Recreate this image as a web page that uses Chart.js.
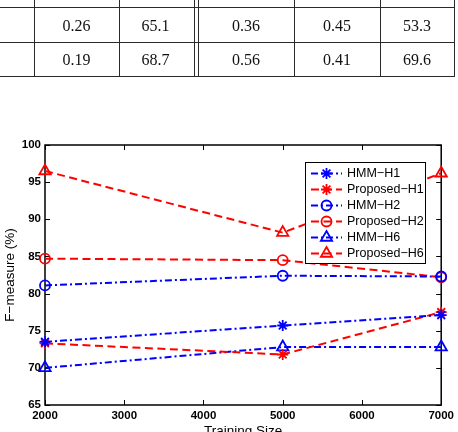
<!DOCTYPE html>
<html><head><meta charset="utf-8">
<script src="https://cdn.jsdelivr.net/npm/chart.js@4.4.1/dist/chart.umd.min.js"></script>
<style>
html,body{margin:0;padding:0;width:458px;height:432px;overflow:hidden;background:#fff;}
#c{position:absolute;left:0;top:0;}
#tbl{position:absolute;left:0;top:0;width:458px;height:80px;z-index:2;}
.hl{position:absolute;height:1px;background:#2a2a2a;}
.vl{position:absolute;width:1px;background:#2a2a2a;}
.cell{position:absolute;font-family:"Liberation Serif",serif;font-size:16px;color:#111;transform:translate(-50%,-50%);white-space:nowrap;}
</style></head>
<body>
<div id="tbl"></div>
<canvas id="c" width="458" height="439"></canvas>
<script>
// ---- table fragment data ----
const tableRow1 = ["0.26", "65.1", "0.36", "0.45", "53.3"];
const tableRow2 = ["0.19", "68.7", "0.56", "0.41", "69.6"];

// ---- chart data ----
const trainingSizes = [2000, 5000, 7000];
const hmmH1  = [73.5, 75.7, 77.1];
const propH1 = [73.3, 71.8, 77.5];
const hmmH2  = [81.1, 82.4, 82.3];
const propH2 = [84.7, 84.5, 82.2];
const hmmH6  = [70.0, 72.8, 72.8];
const propH6 = [96.5, 88.2, 96.2];
const seriesNames = ["HMM\u2212H1", "Proposed\u2212H1", "HMM\u2212H2", "Proposed\u2212H2", "HMM\u2212H6", "Proposed\u2212H6"];

// ---- build table ----
(function(){
  const t = document.getElementById('tbl');
  const hY = [7, 42, 76];
  const vX = [34, 119, 194, 198, 294, 380, 454];
  const colC = [76.5, 155.5, 246, 337, 417];
  const rowC = [25.5, 59.5];
  hY.forEach(y => { const d = document.createElement('div'); d.className='hl'; d.style.left='0px'; d.style.top=y+'px'; d.style.width='455px'; t.appendChild(d); });
  vX.forEach(x => { const d = document.createElement('div'); d.className='vl'; d.style.left=x+'px'; d.style.top='0px'; d.style.height='77px'; t.appendChild(d); });
  [tableRow1, tableRow2].forEach((row, r) => row.forEach((v, c) => {
    const s = document.createElement('div'); s.className='cell'; s.textContent=v;
    s.style.left=colC[c]+'px'; s.style.top=rowC[r]+'px'; t.appendChild(s);
  }));
})();

const BLUE = '#0000ff', RED = '#ff0000';
const hmmDash = [7, 3, 2, 3], propDash = [8, 4.5];
function mk(label, data, color, dash, style, r) {
  return {
    label, data: data.map((v, i) => ({x: trainingSizes[i], y: v})),
    borderColor: color, borderDash: dash, borderWidth: 2,
    pointStyle: style, pointRadius: r, pointHoverRadius: r,
    pointBorderColor: color, pointBackgroundColor: 'rgba(0,0,0,0)', pointBorderWidth: 1.8,
    tension: 0, fill: false, clip: false
  };
}
const datasets = [
  mk(seriesNames[0], hmmH1, BLUE, hmmDash, 'star', 5.5),
  mk(seriesNames[1], propH1, RED, propDash, 'star', 5.5),
  mk(seriesNames[2], hmmH2, BLUE, hmmDash, 'circle', 5),
  mk(seriesNames[3], propH2, RED, propDash, 'circle', 5),
  mk(seriesNames[4], hmmH6, BLUE, hmmDash, 'triangle', 6.5),
  mk(seriesNames[5], propH6, RED, propDash, 'triangle', 6.5)
];

function drawMarker(ctx, style, x, y, r) {
  ctx.beginPath();
  if (style === 'circle') {
    ctx.arc(x, y, r, 0, Math.PI * 2);
  } else if (style === 'triangle') {
    for (let k = 0; k < 3; k++) {
      const a = k * 2 * Math.PI / 3;
      const px = x + Math.sin(a) * r, py = y - Math.cos(a) * r;
      if (k === 0) ctx.moveTo(px, py); else ctx.lineTo(px, py);
    }
    ctx.closePath();
  } else if (style === 'star') {
    for (let k = 0; k < 4; k++) {
      const a = k * Math.PI / 4;
      ctx.moveTo(x + Math.sin(a) * r, y - Math.cos(a) * r);
      ctx.lineTo(x - Math.sin(a) * r, y + Math.cos(a) * r);
    }
  }
  ctx.stroke();
}

const framePlugin = {
  id: 'frame',
  beforeDatasetsDraw(chart) {
    const {ctx, chartArea: a, scales: {x, y}} = chart;
    ctx.save();
    ctx.strokeStyle = '#000'; ctx.lineWidth = 1.5;
    ctx.strokeRect(a.left, a.top, a.right - a.left, a.bottom - a.top);
    ctx.lineWidth = 1;
    const L = 5;
    ctx.beginPath();
    x.ticks.forEach(t => {
      const px = Math.round(x.getPixelForValue(t.value)) + 0.5;
      ctx.moveTo(px, a.bottom); ctx.lineTo(px, a.bottom - L);
      ctx.moveTo(px, a.top); ctx.lineTo(px, a.top + L);
    });
    y.ticks.forEach(t => {
      const py = Math.round(y.getPixelForValue(t.value)) + 0.5;
      ctx.moveTo(a.left, py); ctx.lineTo(a.left + L, py);
      ctx.moveTo(a.right, py); ctx.lineTo(a.right - L, py);
    });
    ctx.stroke();
    ctx.restore();
  },
  afterDatasetsDraw(chart) {
    const ctx = chart.ctx;
    const bx = 305, by = 162, bw = 120, bh = 101;
    ctx.save();
    ctx.fillStyle = '#fff';
    ctx.fillRect(bx, by, bw, bh);
    ctx.strokeStyle = '#000'; ctx.lineWidth = 1;
    ctx.strokeRect(bx + 0.5, by + 0.5, bw, bh);
    ctx.font = '12.5px "Liberation Sans", Arial, sans-serif';
    ctx.textBaseline = 'middle';
    ctx.fillStyle = '#000';
    chart.data.datasets.forEach((ds, i) => {
      const yy = by + 11.5 + i * 16;
      ctx.strokeStyle = ds.borderColor;
      ctx.lineWidth = ds.borderWidth;
      ctx.setLineDash(ds.borderDash);
      ctx.beginPath(); ctx.moveTo(311, yy); ctx.lineTo(342, yy); ctx.stroke();
      ctx.setLineDash([]);
      ctx.lineWidth = ds.pointBorderWidth;
      drawMarker(ctx, ds.pointStyle, 326.5, yy, ds.pointRadius);
      ctx.fillText(ds.label, 347, yy + 0.5);
    });
    ctx.restore();
  }
};

new Chart(document.getElementById('c'), {
  type: 'line',
  data: { datasets },
  options: {
    responsive: false, animation: false,
    layout: { padding: { top: 145, left: 0, right: 14, bottom: 0 } },
    plugins: { legend: { display: false }, tooltip: { enabled: false } },
    scales: {
      x: {
        type: 'linear', min: 2000, max: 7000,
        grid: { display: false, drawTicks: false }, border: { display: false },
        ticks: { stepSize: 1000, padding: 4, color: '#000', font: { family: '"Liberation Sans", Arial', size: 11.5, weight: 'bold' }, callback: v => String(v), maxRotation: 0 },
        title: { display: true, text: 'Training Size', color: '#000', font: { family: '"Liberation Sans", Arial', size: 13.5 }, padding: 0 },
        afterFit(s) { s.height = 34; }
      },
      y: {
        min: 65, max: 100,
        grid: { display: false, drawTicks: false }, border: { display: false },
        ticks: { stepSize: 5, padding: 4, color: '#000', font: { family: '"Liberation Sans", Arial', size: 11.5, weight: 'bold' }, callback: v => String(v) },
        title: { display: true, text: 'F\u2212measure (%)', color: '#000', font: { family: '"Liberation Sans", Arial', size: 13.5 }, padding: { top: 2, bottom: 0 } },
        afterFit(s) { s.width = 45; }
      }
    }
  },
  plugins: [framePlugin]
});
</script>
</body></html>
